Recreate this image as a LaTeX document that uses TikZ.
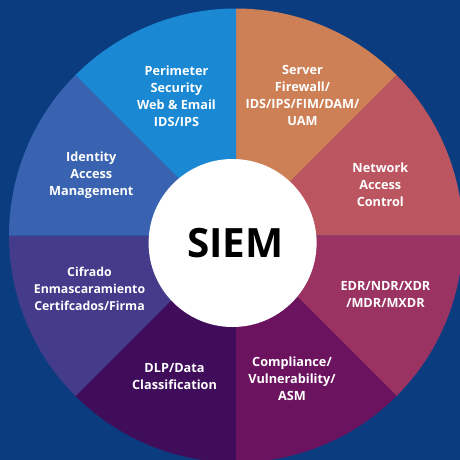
\documentclass[tikz,border=0pt]{standalone}
\usepackage{fontspec}
\setmainfont{Open Sans}
\definecolor{bgblue}{HTML}{0B3C80}
\definecolor{secA}{HTML}{CD8056}
\definecolor{secB}{HTML}{BB5560}
\definecolor{secC}{HTML}{9A3262}
\definecolor{secD}{HTML}{6C1360}
\definecolor{secE}{HTML}{400D5B}
\definecolor{secF}{HTML}{443B8A}
\definecolor{secG}{HTML}{3963B0}
\definecolor{secH}{HTML}{1A88D3}
\tikzset{
  lbl/.style={text=white,font=\fontsize{12.7}{17}\selectfont\bfseries,align=center,inner sep=0pt},
  lblsmall/.style={lbl,font=\fontsize{12.3}{17}\selectfont\bfseries},
  hub/.style={circle,fill=white,minimum size=168pt,inner sep=0pt},
  hubtext/.style={font=\fontsize{40.4}{44}\selectfont\bfseries,text=black,inner sep=0pt}
}
\newcommand{\wedgeat}[3]{\fill[#1] (236pt,-235.5pt) -- ++(#2:227pt) arc[start angle=#2,end angle=#3,radius=227pt] -- cycle;}
\begin{document}
\begin{tikzpicture}[x=1pt,y=1pt]
\useasboundingbox (0,-460) rectangle (460,0);
\clip (0,-460) rectangle (460,0);
\fill[bgblue] (0,-460) rectangle (460,0);
\wedgeat{secA}{90}{45}
\wedgeat{secB}{45}{0}
\wedgeat{secC}{0}{-45}
\wedgeat{secD}{-45}{-90}
\wedgeat{secE}{-90}{-135}
\wedgeat{secF}{-135}{-180}
\wedgeat{secG}{180}{135}
\wedgeat{secH}{135}{90}
\node[hub] (hub) at (232.6,-243) {};
\node[hubtext] (hubt) at (235.2,-243) {SIEM};
\node[lbl] (s1) at (302.5,-95.5) {Server\\Firewall/\\IDS/IPS/FIM/DAM/\\UAM};
\node[lbl] (s2) at (380.3,-184.5) {Network\\Access\\Control};
\node[lbl] (s3) at (385.5,-294) {EDR/NDR/XDR\\/MDR/MXDR};
\node[lbl] (s4) at (292,-378.5) {Compliance/\\Vulnerability/\\ASM};
\node[lbl] (s5) at (174.5,-377) {DLP/Data\\Classification};
\node[lblsmall] (s6) at (89.5,-288.5) {Cifrado\\Enmascaramiento\\Certifcados/Firma};
\node[lbl] (s7) at (91.3,-175) {Identity\\Access\\Management};
\node[lbl] (s8) at (176.5,-96) {Perimeter\\Security\\Web \& Email\\IDS/IPS};
\end{tikzpicture}
\end{document}
